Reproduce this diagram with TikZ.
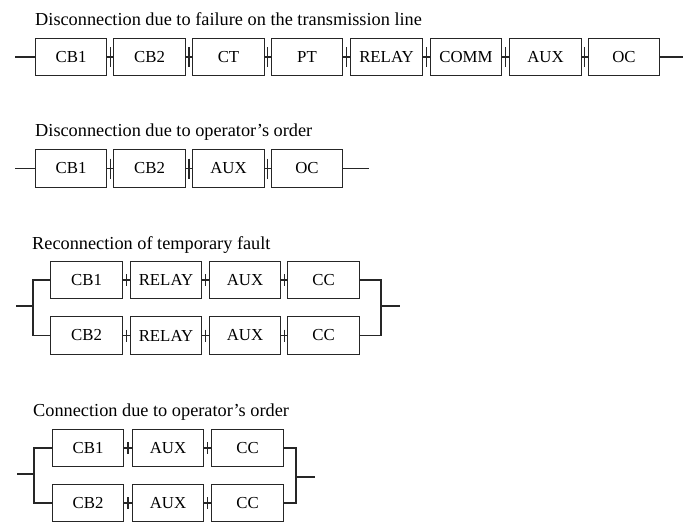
\documentclass[tikz,border=0pt]{standalone}
\usepackage{fontspec}
\setmainfont{Liberation Serif}
\usetikzlibrary{calc}
\tikzset{
  blk/.style={draw=black!85, line width=1.3pt, minimum width=71.5pt, minimum height=37.5pt, inner sep=0pt, font=\fontsize{16.8}{18}\selectfont},
  ttl/.style={anchor=base west, inner sep=0pt, font=\fontsize{18.3}{20}\selectfont},
  wire/.style={line width=1.3pt, draw=black!85},
}
\begin{document}
\begin{tikzpicture}[x=1pt,y=-1pt]
\useasboundingbox (0,0) rectangle (685,522);
% titles
\node[ttl] (t1) at (35,25) {Disconnection due to failure on the transmission line};
\node[ttl] (t2) at (35,136.7) {Disconnection due to operator’s order};
\node[ttl] (t3) at (32,249) {Reconnection of temporary fault};
\node[ttl] (t4) at (33,416) {Connection due to operator’s order};
% row 1
\foreach \n/\t/\x in {a/CB1/71, b/CB2/149.5, c/CT/228.5, d/PT/307, e/RELAY/386.5, f/COMM/466, g/AUX/545.5, h/OC/624}
  \node[blk] (r1\n) at (\x,57) {\t};
\foreach \p/\q in {a/b, b/c, c/d, d/e, e/f, f/g, g/h}{
  \draw[wire] (r1\p.east) -- (r1\q.west);
  \draw[wire] ($(r1\p.east)!0.5!(r1\q.west)$) ++(0,-10) -- ++(0,20);
}
\coordinate (r1in) at (15,57);
\coordinate (r1out) at (683,57);
\draw[wire] (r1in) -- (r1a.west);
\draw[wire] (r1h.east) -- (r1out);
% row 2
\foreach \n/\t/\x in {a/CB1/71, b/CB2/149.5, c/AUX/228.5, d/OC/307}
  \node[blk] (r2\n) at (\x,168.5) {\t};
\foreach \p/\q in {a/b, b/c, c/d}{
  \draw[wire] (r2\p.east) -- (r2\q.west);
  \draw[wire] ($(r2\p.east)!0.5!(r2\q.west)$) ++(0,-10) -- ++(0,20);
}
\coordinate (r2in) at (15,168.5);
\coordinate (r2out) at (369,168.5);
\draw[wire] (r2in) -- (r2a.west);
\draw[wire] (r2d.east) -- (r2out);
% row 3
\foreach \n/\t/\x in {a/CB1/86.5, b/RELAY/166, c/AUX/245, d/CC/323.5}
  \node[blk] (r3u\n) at (\x,280) {\t};
\foreach \n/\t/\x in {a/CB2/86.5, b/RELAY/166, c/AUX/245, d/CC/323.5}
  \node[blk] (r3d\n) at (\x,335.5) {\t};
\foreach \r in {u,d}{
  \foreach \p/\q in {a/b, b/c, c/d}{
    \draw[wire] (r3\r\p.east) -- (r3\r\q.west);
    \draw[wire] ($(r3\r\p.east)!0.5!(r3\r\q.west)$) ++(0,-6) -- ++(0,12);
  }
}
\coordinate (r3l) at (33,306);
\coordinate (r3in) at (16,306);
\coordinate (r3r) at (381,306);
\coordinate (r3out) at (400,306);
\draw[wire] (r3ua.west) -| (r3l) |- (r3da.west);
\draw[wire] (r3in) -- (r3l);
\draw[wire] (r3ud.east) -| (r3r) |- (r3dd.east);
\draw[wire] (r3r) -- (r3out);
% row 4
\foreach \n/\t/\x in {a/CB1/88, b/AUX/168, c/CC/247.5}
  \node[blk] (r4u\n) at (\x,448) {\t};
\foreach \n/\t/\x in {a/CB2/88, b/AUX/168, c/CC/247.5}
  \node[blk] (r4d\n) at (\x,503) {\t};
\foreach \r in {u,d}{
  \foreach \p/\q in {a/b, b/c}{
    \draw[wire] (r4\r\p.east) -- (r4\r\q.west);
    \draw[wire] ($(r4\r\p.east)!0.5!(r4\r\q.west)$) ++(0,-6) -- ++(0,12);
  }
}
\coordinate (r4l) at (34,474);
\coordinate (r4in) at (17,474);
\coordinate (r4r) at (296,477);
\coordinate (r4out) at (315,477);
\draw[wire] (r4ua.west) -| (r4l) |- (r4da.west);
\draw[wire] (r4in) -- (r4l);
\draw[wire] (r4uc.east) -| (r4r) |- (r4dc.east);
\draw[wire] (r4r) -- (r4out);
\end{tikzpicture}
\end{document}
